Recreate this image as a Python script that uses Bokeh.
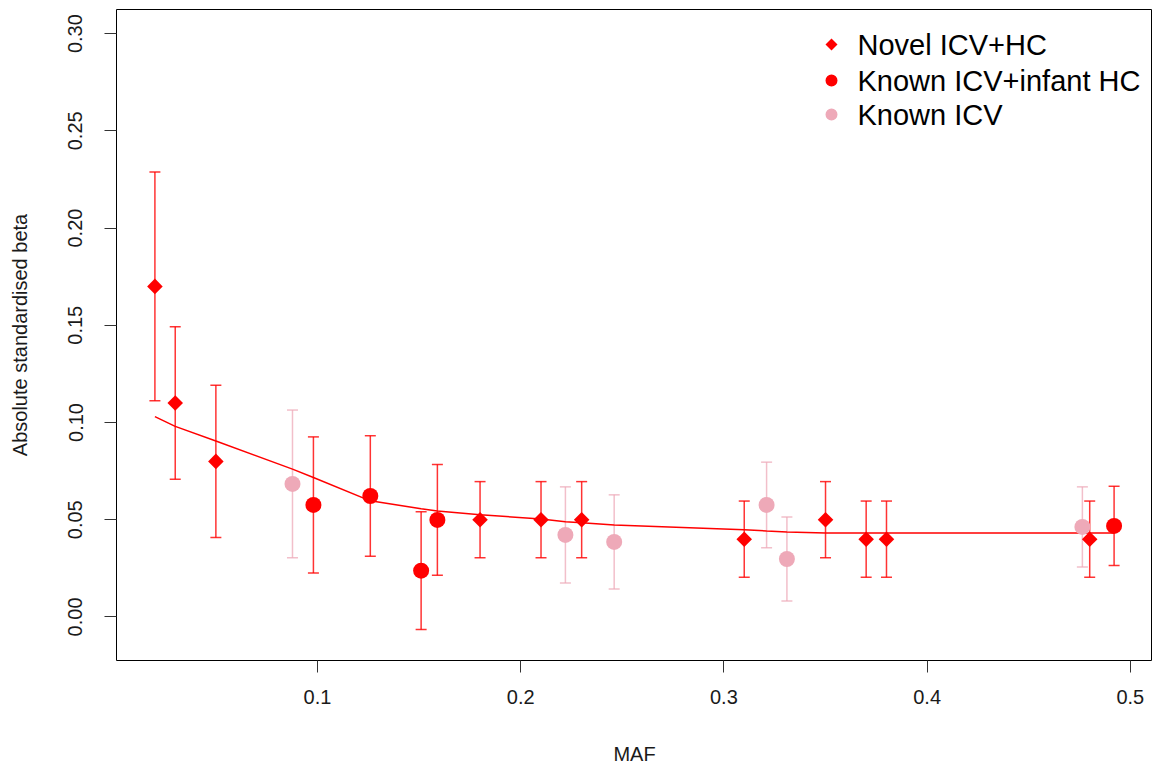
from bokeh.plotting import figure
from bokeh.models import (Range1d, FixedTicker, PrintfTickFormatter, Whisker,
                          TeeHead, ColumnDataSource)
from bokeh.core.properties import value
from bokeh.embed import file_html
from bokeh.resources import INLINE
import numpy as np

# --- effect sizes by minor allele frequency ---------------------------------
novel_maf = [0.02, 0.03, 0.05, 0.18, 0.21, 0.23, 0.31, 0.35, 0.37, 0.38, 0.48]
novel_beta = [0.17, 0.11, 0.08, 0.05, 0.05, 0.05, 0.04, 0.05, 0.04, 0.04, 0.04]
novel_ci = [0.0588, 0.0392, 0.0392, 0.0196, 0.0196, 0.0196, 0.0196, 0.0196,
            0.0196, 0.0196, 0.0196]

infant_maf = [0.098, 0.126, 0.151, 0.159, 0.492]
infant_beta = [0.0576, 0.0622, 0.0238, 0.0499, 0.0468]
infant_ci = [0.035, 0.031, 0.0303, 0.0285, 0.0204]

icv_maf = [0.0877, 0.222, 0.246, 0.321, 0.331, 0.4764]
icv_beta = [0.0684, 0.0422, 0.0386, 0.0576, 0.0298, 0.0463]
icv_ci = [0.038, 0.0247, 0.0242, 0.022, 0.0216, 0.0206]

# smoothed trend evaluated at the sorted MAF values
fit_maf = [0.02, 0.03, 0.05, 0.0877, 0.098, 0.126, 0.151, 0.159, 0.18, 0.21,
           0.222, 0.23, 0.246, 0.31, 0.321, 0.331, 0.35, 0.37, 0.38, 0.4764,
           0.48, 0.492]
fit_beta = [0.103, 0.098, 0.0905, 0.076, 0.0717, 0.0597, 0.0556, 0.0545,
            0.0525, 0.0504, 0.049, 0.0485, 0.0473, 0.0448, 0.0442, 0.0437,
            0.0432, 0.0432, 0.0432, 0.0432, 0.0432, 0.0432]

x_ticks = [0.1, 0.2, 0.3, 0.4, 0.5]
y_ticks = [0.0, 0.05, 0.10, 0.15, 0.20, 0.25, 0.30]

legend_labels = ["Novel ICV+HC", "Known ICV+infant HC", "Known ICV"]

RED = "#FF0000"
PINK = "#EEA9B8"
FONT = "Liberation Sans"

W, H = 1152, 769
LEFT, RIGHT, TOP, BOTTOM = 116, 0, 9, 109
X_LIM = (0.0011, 0.5109)
Y_LIM = (-0.0224, 0.3124)

p = figure(width=W, height=H, x_range=Range1d(*X_LIM), y_range=Range1d(*Y_LIM),
           output_backend="svg", toolbar_location=None,
           min_border_left=LEFT, min_border_right=RIGHT,
           min_border_top=TOP, min_border_bottom=BOTTOM,
           background_fill_color="white", border_fill_color="white")
p.grid.visible = False
p.outline_line_color = "black"
p.outline_line_width = 1
p.outline_line_alpha = 1

for ax in (p.xaxis[0], p.yaxis[0]):
    ax.axis_line_color = None
    ax.major_tick_in = 0
    ax.major_tick_out = 12
    ax.major_tick_line_color = "#333333"
    ax.major_tick_line_width = 1
    ax.minor_tick_line_color = None
    ax.major_label_text_font = FONT
    ax.major_label_text_font_size = "20px"
    ax.major_label_text_color = "#1a1a1a"
    ax.axis_label_text_font = FONT
    ax.axis_label_text_font_size = "20px"
    ax.axis_label_text_font_style = "normal"
    ax.axis_label_text_color = "#1a1a1a"

p.xaxis.ticker = FixedTicker(ticks=x_ticks)
p.xaxis.formatter = PrintfTickFormatter(format="%.1f")
p.xaxis.axis_label = "MAF"
p.xaxis.major_label_standoff = 17
p.xaxis.axis_label_standoff = 36

p.yaxis.ticker = FixedTicker(ticks=y_ticks)
p.yaxis.formatter = PrintfTickFormatter(format="%.2f")
p.yaxis.major_label_orientation = "vertical"
p.yaxis.axis_label = "Absolute standardised beta"
p.yaxis.major_label_standoff = 22
p.yaxis.axis_label_standoff = 35


def error_bars(maf, beta, ci, color, alpha):
    src = ColumnDataSource(dict(
        x=maf,
        lo=[b - c for b, c in zip(beta, ci)],
        hi=[b + c for b, c in zip(beta, ci)],
    ))
    head = dict(size=11, line_color=color, line_width=1.5, line_alpha=alpha)
    p.add_layout(Whisker(source=src, base="x", lower="lo", upper="hi",
                         dimension="height", line_color=color, line_width=1.5,
                         line_alpha=alpha,
                         lower_head=TeeHead(**head), upper_head=TeeHead(**head)))


error_bars(icv_maf, icv_beta, icv_ci, PINK, 0.75)
error_bars(infant_maf, infant_beta, infant_ci, RED, 0.8)
error_bars(novel_maf, novel_beta, novel_ci, RED, 0.8)

p.line(fit_maf, fit_beta, line_color=RED, line_width=1.5)

p.scatter(icv_maf, icv_beta, marker="circle", size=16, fill_color=PINK,
          line_color=None)
p.scatter(infant_maf, infant_beta, marker="circle", size=16, fill_color=RED,
          line_color=None)
p.scatter(novel_maf, novel_beta, marker="square", angle=np.pi / 4, size=11,
          fill_color=RED, line_color=None)

# --- legend, placed in the top-right corner of the frame --------------------
frame_w = W - LEFT - RIGHT
frame_h = H - TOP - BOTTOM


def sx(px):
    return X_LIM[0] + (px - LEFT) / frame_w * (X_LIM[1] - X_LIM[0])


def sy(py):
    return Y_LIM[1] - (py - TOP) / frame_h * (Y_LIM[1] - Y_LIM[0])


leg_rows = [sy(44), sy(80), sy(114)]
mark_x = sx(831)
text_x = sx(857)

p.scatter([mark_x], [leg_rows[0]], marker="square", angle=np.pi / 4, size=8.5,
          fill_color=RED, line_color=None)
p.scatter([mark_x], [leg_rows[1]], marker="circle", size=12, fill_color=RED,
          line_color=None)
p.scatter([mark_x], [leg_rows[2]], marker="circle", size=12, fill_color=PINK,
          line_color=None)
p.text([text_x] * 3, leg_rows, text=legend_labels, text_font=value(FONT),
       text_font_size="29px", text_color="black", text_baseline="middle",
       text_align="left")

open("out.html", "w").write(file_html(p, INLINE))
